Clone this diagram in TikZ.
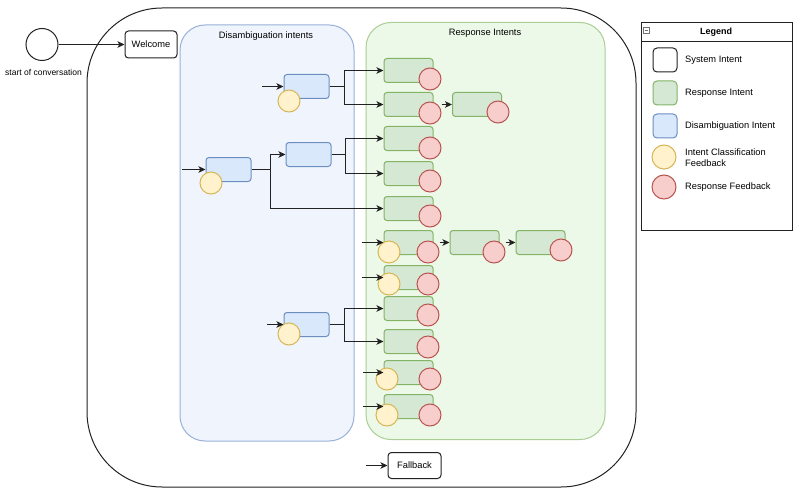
\documentclass[tikz,border=0pt]{standalone}
\usepackage{fontspec}
\setmainfont{Liberation Sans}
\usetikzlibrary{arrows.meta,calc}
\definecolor{gfill}{HTML}{D5E8D4}\definecolor{gline}{HTML}{82B366}
\definecolor{bfill}{HTML}{DAE8FC}\definecolor{bline}{HTML}{6C8EBF}
\definecolor{yfill}{HTML}{FFF2CC}\definecolor{yline}{HTML}{D6B656}
\definecolor{rfill}{HTML}{F8CECC}\definecolor{rline}{HTML}{B85450}
\definecolor{dcfill}{HTML}{F0F5FD}\definecolor{dcline}{HTML}{98B1D8}
\definecolor{rcfill}{HTML}{EDF9E8}\definecolor{rcline}{HTML}{A9CE96}
\definecolor{ink}{HTML}{222222}
\begin{document}
\begin{tikzpicture}[x=1pt,y=-1pt,
  font=\fontsize{9.3}{11}\selectfont,
  resp/.style={draw=gline,fill=gfill,rounded corners=3pt,minimum width=49pt,minimum height=24pt,inner sep=0pt,line width=1pt},
  disb/.style={draw=bline,fill=bfill,rounded corners=3pt,minimum width=45pt,minimum height=24pt,inner sep=0pt,line width=1pt},
  sysbox/.style={draw=ink,fill=white,rounded corners=3.5pt,minimum height=27pt,inner sep=0pt,line width=1pt},
  redfb/.style={circle,draw=rline,fill=rfill,minimum size=22pt,inner sep=0pt,line width=1pt},
  yelfb/.style={circle,draw=yline,fill=yfill,minimum size=22pt,inner sep=0pt,line width=1pt},
  conn/.style={draw=ink,line width=1pt,-{Stealth[length=7pt,width=6.5pt,inset=1.8pt]}},
  lbl/.style={inner sep=0pt},
]
\useasboundingbox (0,0) rectangle (800,500);
\fill[white] (0,0) rectangle (800,500);

% containers
\node[draw=ink,fill=white,rounded corners=75pt,line width=1pt,minimum width=549pt,minimum height=479pt,inner sep=0pt] (outer) at (361.5,247.5) {};
\node[draw=dcline,fill=dcfill,rounded corners=25pt,line width=1pt,minimum width=174pt,minimum height=416pt,inner sep=0pt] (dcont) at (267,233) {};
\node[draw=rcline,fill=rcfill,rounded corners=25pt,line width=1pt,minimum width=239pt,minimum height=417pt,inner sep=0pt] (rcont) at (485.5,231) {};
\node[lbl] (dtitle) at (266,36) {Disambiguation intents};
\node[lbl] (rtitle) at (485,33) {Response Intents};

% start, welcome, fallback
\node[circle,draw=ink,fill=white,minimum size=32pt,inner sep=0pt,line width=1pt] (start) at (42,44.5) {};
\node[lbl,font=\fontsize{8.5}{10}\selectfont] (startlbl) at (43.5,72) {start of conversation};
\node[sysbox,minimum width=52pt] (welcome) at (151,44.5) {Welcome};
\node[sysbox,minimum width=53pt,minimum height=26pt] (fallback) at (414.5,465.5) {Fallback};

% disambiguation intents
\node[disb] (D1) at (306.5,86.5) {};
\node[disb] (D2) at (308.5,154.5) {};
\node[disb] (D3) at (228.5,169.5) {};
\node[disb] (D4) at (306.5,324.5) {};
\node[yelfb] (D1fb) at (289,101) {};
\node[yelfb] (D3fb) at (211,183) {};
\node[yelfb] (D4fb) at (289,334) {};

% response intents
\node[resp] (R1) at (408.5,70.5) {};
\node[resp] (R2) at (408.5,104.5) {};
\node[resp] (R2b) at (477,104.5) {};
\node[resp] (R3) at (408.5,138.5) {};
\node[resp] (R4) at (408.5,173.5) {};
\node[resp] (R5) at (408.5,208.5) {};
\node[resp] (R6) at (408.5,242.5) {};
\node[resp] (R6b) at (474.5,242.5) {};
\node[resp] (R6c) at (540.5,242.5) {};
\node[resp] (R7) at (408.5,277.5) {};
\node[resp] (R8) at (408.5,308.5) {};
\node[resp] (R9) at (408.5,341.5) {};
\node[resp] (R10) at (408.5,372.5) {};
\node[resp] (R11) at (408.5,406.5) {};

\node[redfb] (R1fb) at (430,79) {};
\node[redfb] (R2fb) at (430,113) {};
\node[redfb] (R2bfb) at (498,112) {};
\node[redfb] (R3fb) at (430,148) {};
\node[redfb] (R4fb) at (430,181) {};
\node[redfb] (R5fb) at (430,216) {};
\node[yelfb] (R6yfb) at (389,252) {};
\node[redfb] (R6fb) at (428,252) {};
\node[redfb] (R6bfb) at (494,252) {};
\node[redfb] (R6cfb) at (561,250) {};
\node[yelfb] (R7yfb) at (389,284) {};
\node[redfb] (R7fb) at (428,284) {};
\node[redfb] (R8fb) at (428,315) {};
\node[redfb] (R9fb) at (428,347) {};
\node[yelfb] (R10yfb) at (387,379) {};
\node[redfb] (R10fb) at (430,379) {};
\node[yelfb] (R11yfb) at (387,415) {};
\node[redfb] (R11fb) at (430,415) {};

% free ends of incoming arrows
\coordinate (inD1) at (262,86.5);
\coordinate (inD3) at (182,169.5);
\coordinate (inD4) at (267,324.5);
\coordinate (inR6) at (362,242.5);
\coordinate (inR7) at (362,277.5);
\coordinate (inR10) at (363,372.5);
\coordinate (inR11) at (363,406.5);
\coordinate (inFb) at (366,465.5);

% connectors
\draw[conn] (start.east) -- (welcome.west);
\draw[conn] (inFb) -- (fallback.west);
\draw[conn] (inD1) -- (D1.west);
\draw[conn] (inD3) -- (D3.west);
\draw[conn] (inD4) -- (D4.west);
\draw[conn] (inR6) -- (R6.west);
\draw[conn] (inR7) -- (R7.west);
\draw[conn] (inR10) -- (R10.west);
\draw[conn] (inR11) -- (R11.west);

\draw[conn] (D1.east) -- ++(14.5,0) |- (R1.west);
\draw[conn] (D1.east) -- ++(14.5,0) |- (R2.west);
\draw[conn] (D2.east) -- ++(13.5,0) |- (R3.west);
\draw[conn] (D2.east) -- ++(13.5,0) |- (R4.west);
\draw[conn] (D3.east) -- ++(18.5,0) |- (D2.west);
\draw[conn] (D3.east) -- ++(18.5,0) |- (R5.west);
\draw[conn] (D4.east) -- ++(14.5,0) |- (R8.west);
\draw[conn] (D4.east) -- ++(14.5,0) |- (R9.west);

\draw[conn] (R2fb.east |- R2b.west) -- (R2b.west);
\draw[conn] (R6fb.east |- R6b.west) -- (R6b.west);
\draw[conn] (R6bfb.east |- R6c.west) -- (R6c.west);

% legend
\node[draw=ink,fill=white,line width=1pt,minimum width=151pt,minimum height=207pt,inner sep=0pt] (legend) at (716.5,126.5) {};
\coordinate (divL) at (641,41.5);
\coordinate (divR) at (792,41.5);
\draw[ink,line width=1pt] (divL) -- (divR);
\draw[black!55,line width=0.5pt] (643.5,27.5) rectangle (649,33);
\draw[black!55,line width=0.5pt] (644.5,30.25) -- (648,30.25);
\node[lbl,font=\bfseries\fontsize{9}{11}\selectfont] (legtitle) at (716,32) {Legend};

\node[draw=ink,fill=white,rounded corners=4pt,minimum size=24pt,inner sep=0pt,line width=1pt] (lg1) at (665,60) {};
\node[draw=gline,fill=gfill,rounded corners=4pt,minimum size=24pt,inner sep=0pt,line width=1pt] (lg2) at (665,93) {};
\node[draw=bline,fill=bfill,rounded corners=4pt,minimum size=24pt,inner sep=0pt,line width=1pt] (lg3) at (665,126) {};
\node[yelfb,minimum size=24pt] (lg4) at (664,157) {};
\node[redfb,minimum size=24pt] (lg5) at (664,187) {};
\node[lbl,anchor=west] (lt1) at (685,60) {System Intent};
\node[lbl,anchor=west] (lt2) at (685,93) {Response Intent};
\node[lbl,anchor=west] (lt3) at (685,126) {Disambiguation Intent};
\node[lbl,anchor=west,align=left] (lt4) at (685,157.5) {Intent Classification\\Feedback};
\node[lbl,anchor=west] (lt5) at (685,187) {Response Feedback};
\end{tikzpicture}
\end{document}
